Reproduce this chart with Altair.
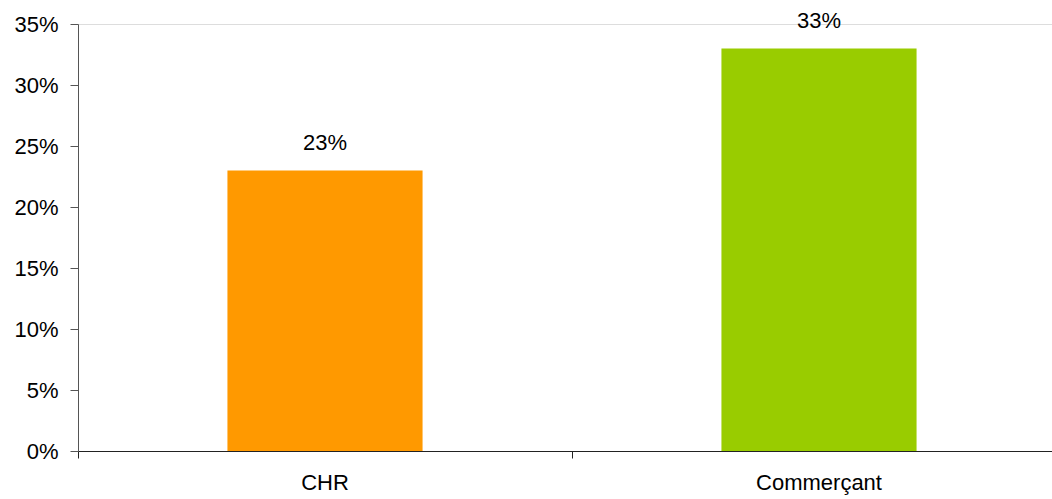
import altair as alt
import pandas as pd

# Share of respondents by business type
categories = ["CHR", "Commerçant"]
shares = [0.23, 0.33]
bar_colors = ["#FF9900", "#99CC00"]

df = pd.DataFrame({"categorie": categories, "part": shares})

FONT = "Liberation Sans"
FONT_SIZE = 22

x_enc = alt.X(
    "categorie:N",
    sort=categories,
    title=None,
    scale=alt.Scale(paddingInner=0, paddingOuter=0),
    axis=alt.Axis(
        labelAngle=0,
        labelFont=FONT,
        labelFontSize=FONT_SIZE,
        labelColor="#000000",
        labelPadding=14,
        tickSize=7,
        tickColor="#222222",
        domainColor="#222222",
        bandPosition=0,
        grid=False,
    ),
)

y_enc = alt.Y(
    "part:Q",
    title=None,
    scale=alt.Scale(domain=[0, 0.35], nice=False),
    axis=alt.Axis(
        values=[0, 0.05, 0.10, 0.15, 0.20, 0.25, 0.30, 0.35],
        format=".0%",
        labelFont=FONT,
        labelFontSize=FONT_SIZE,
        labelColor="#000000",
        labelPadding=12,
        tickSize=8,
        tickColor="#555555",
        domainColor="#555555",
        grid=False,
    ),
)

bars = alt.Chart(df).mark_bar(width=alt.RelativeBandSize(0.395)).encode(
    x=x_enc,
    y=y_enc,
    color=alt.Color("categorie:N", scale=alt.Scale(domain=categories, range=bar_colors), legend=None),
)

labels = alt.Chart(df).mark_text(
    font=FONT, fontSize=FONT_SIZE, color="#000000", baseline="alphabetic", dy=-20
).encode(
    x=alt.X("categorie:N", sort=categories),
    y=alt.Y("part:Q"),
    text=alt.Text("part:Q", format=".0%"),
)

chart = (
    alt.layer(bars, labels)
    .properties(
        width=988,
        height=427,
        autosize=alt.AutoSizeParams(type="none"),
        padding={"left": 78, "top": 24, "right": -14, "bottom": 48},
    )
    .configure_view(stroke=None)
    .configure(background="#ffffff")
)

chart.save("out.html", embed_options={"renderer": "svg", "actions": False})
